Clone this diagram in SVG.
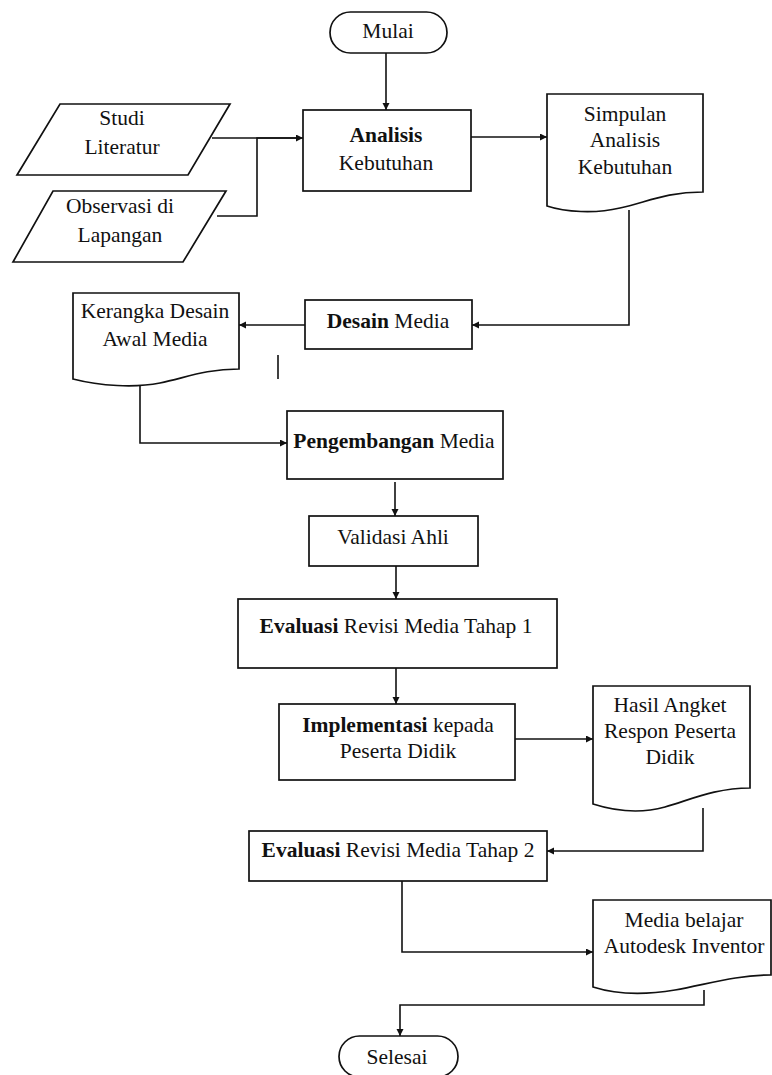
<svg xmlns="http://www.w3.org/2000/svg" width="772" height="1075" viewBox="0 0 772 1075">
<style>
.s{fill:#fff;stroke:#111;stroke-width:1.7}
.c{fill:none;stroke:#111;stroke-width:1.6}
text{font-family:'Liberation Serif','Tinos','DejaVu Serif',serif;font-size:21.5px;fill:#111;text-anchor:middle}
.b{font-weight:bold}
</style>
<defs>
<marker id="ah" markerUnits="userSpaceOnUse" markerWidth="8" markerHeight="8" refX="7" refY="3.5" orient="auto">
<path d="M0,0 L7,3.5 L0,7 Z" fill="#111"/>
</marker>
</defs>
<rect width="772" height="1075" fill="#fff"/>
<g id="connectors">
<path class="c" d="M386,53 V110" marker-end="url(#ah)"/>
<path class="c" d="M212,138 H303" marker-end="url(#ah)"/>
<path class="c" d="M217,216 H257 V138 H298"/>
<path class="c" d="M471,137 H547" marker-end="url(#ah)"/>
<path class="c" d="M629,210 V325 H472" marker-end="url(#ah)"/>
<path class="c" d="M305,325 H239" marker-end="url(#ah)"/>
<path class="c" d="M140,385 V443 H287" marker-end="url(#ah)"/>
<path class="c" d="M278,355 V379"/>
<path class="c" d="M395,482 V516" marker-end="url(#ah)"/>
<path class="c" d="M396,566 V599" marker-end="url(#ah)"/>
<path class="c" d="M396,668 V704" marker-end="url(#ah)"/>
<path class="c" d="M515,739 H593" marker-end="url(#ah)"/>
<path class="c" d="M703,808 V851 H547" marker-end="url(#ah)"/>
<path class="c" d="M402,881 V952 H593" marker-end="url(#ah)"/>
<path class="c" d="M704,990 V1005 H400 V1036" marker-end="url(#ah)"/>
</g>
<g id="mulai">
<rect class="s" x="330" y="12" width="117" height="41" rx="20.5"/>
<text x="388" y="38" font-family="Liberation Serif, serif">Mulai</text>
</g>
<g id="studi">
<polygon class="s" points="60,104 230,104 188,175 17,175"/>
<text x="122" y="125">Studi</text>
<text x="122" y="154">Literatur</text>
</g>
<g id="observasi">
<polygon class="s" points="53,191 226,191 183,262 13,262"/>
<text x="120" y="213">Observasi di</text>
<text x="120" y="242">Lapangan</text>
</g>
<g id="analisis">
<rect class="s" x="303" y="110" width="168" height="81"/>
<text x="386" y="142"><tspan class="b">Analisis</tspan></text>
<text x="386" y="170">Kebutuhan</text>
</g>
<g id="simpulan">
<path class="s" d="M547,94 H703 V192 C665,192 645,203 620,208 C595,214 565,212 547,206 Z"/>
<text x="625" y="121">Simpulan</text>
<text x="625" y="147">Analisis</text>
<text x="625" y="174">Kebutuhan</text>
</g>
<g id="desain">
<rect class="s" x="305" y="300" width="167" height="49"/>
<text x="388" y="328"><tspan class="b">Desain</tspan> Media</text>
</g>
<g id="kerangka">
<path class="s" d="M73,293 H239 V369 C205,369 185,378 160,383 C135,388 100,386 73,379 Z"/>
<text x="155" y="318">Kerangka Desain</text>
<text x="155" y="346">Awal Media</text>
</g>
<g id="pengembangan">
<rect class="s" x="287" y="411" width="216" height="68"/>
<text x="394" y="448"><tspan class="b">Pengembangan</tspan> Media</text>
</g>
<g id="validasi">
<rect class="s" x="309" y="516" width="169" height="50"/>
<text x="393" y="544">Validasi Ahli</text>
</g>
<g id="evaluasi1">
<rect class="s" x="238" y="599" width="319" height="69"/>
<text x="396" y="633"><tspan class="b">Evaluasi</tspan> Revisi Media Tahap 1</text>
</g>
<g id="implementasi">
<rect class="s" x="279" y="704" width="236" height="76"/>
<text x="398" y="732"><tspan class="b">Implementasi</tspan> kepada</text>
<text x="398" y="758">Peserta Didik</text>
</g>
<g id="hasil">
<path class="s" d="M593,686 H750 V788 C715,788 690,800 665,807 C640,814 615,811 593,804 Z"/>
<text x="670" y="712">Hasil Angket</text>
<text x="670" y="738">Respon Peserta</text>
<text x="670" y="764">Didik</text>
</g>
<g id="evaluasi2">
<rect class="s" x="249" y="831" width="298" height="50"/>
<text x="398" y="857"><tspan class="b">Evaluasi</tspan> Revisi Media Tahap 2</text>
</g>
<g id="media">
<path class="s" d="M593,900 H771 V975 C735,975 705,985 675,990 C645,995 615,994 593,987 Z"/>
<text x="684" y="927">Media belajar</text>
<text x="684" y="953">Autodesk Inventor</text>
</g>
<g id="selesai">
<rect class="s" x="339" y="1036" width="119" height="41" rx="20.5"/>
<text x="397" y="1064">Selesai</text>
</g>
</svg>
